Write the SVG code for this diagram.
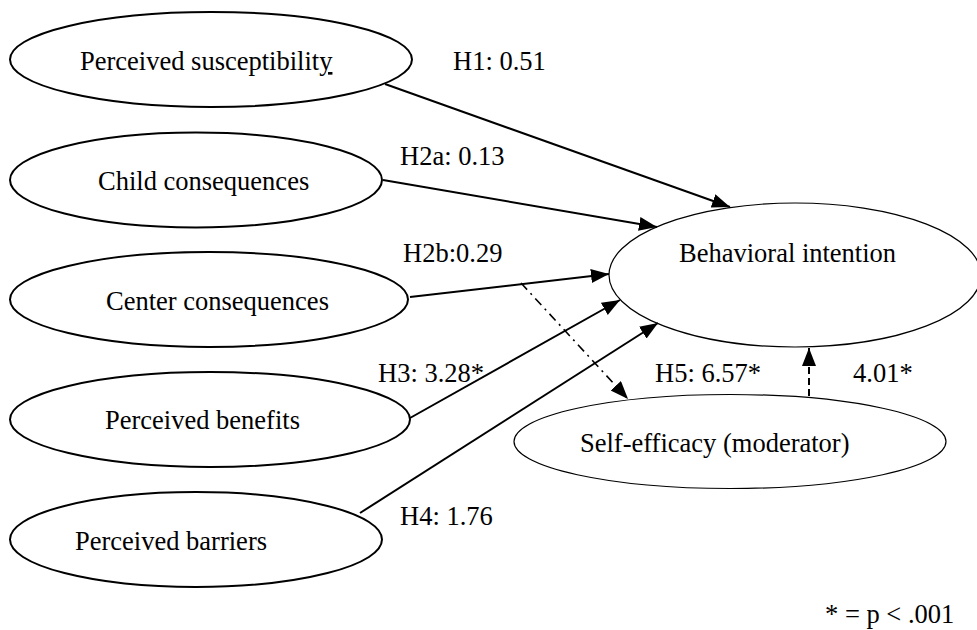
<svg xmlns="http://www.w3.org/2000/svg" width="977" height="630" viewBox="0 0 977 630">
<style>
text{font-family:"Liberation Serif","Times New Roman",serif;font-size:26.5px;fill:#000}
.src{fill:#fff;stroke:#000;stroke-width:2}
.tgt{fill:#fff;stroke:#000;stroke-width:1.2}
.arr{stroke:#000;stroke-width:2;fill:none;marker-end:url(#ah)}
.dd{stroke:#000;stroke-width:1.6;fill:none;stroke-dasharray:9 5 2 5;marker-end:url(#ah)}
.ds{stroke:#000;stroke-width:2;fill:none;stroke-dasharray:7 4;marker-end:url(#ah)}
</style>
<defs>
<marker id="ah" markerUnits="userSpaceOnUse" markerWidth="20" markerHeight="16" refX="18" refY="7" orient="auto">
<path d="M0,0 L18,7 L0,14 z" fill="#000"/>
</marker>
</defs>
<rect width="977" height="630" fill="#fff"/>
<g id="n-susceptibility">
<ellipse class="src" cx="211" cy="59.5" rx="201" ry="47.5"/>
<text x="80" y="70">Perceived susceptibilit<tspan text-decoration="underline">y</tspan></text>
</g>
<g id="n-child">
<ellipse class="src" cx="196" cy="180" rx="186" ry="47.5"/>
<text x="98" y="190">Child consequences</text>
</g>
<g id="n-center">
<ellipse class="src" cx="209" cy="299.5" rx="199" ry="47.5"/>
<text x="106" y="310">Center consequences</text>
</g>
<g id="n-benefits">
<ellipse class="src" cx="210" cy="419.5" rx="200" ry="47.5"/>
<text x="105" y="429">Perceived benefits</text>
</g>
<g id="n-barriers">
<ellipse class="src" cx="196" cy="539.5" rx="186" ry="47.5"/>
<text x="75" y="550">Perceived barriers</text>
</g>
<g id="n-intention">
<ellipse class="tgt" cx="795" cy="275" rx="186" ry="72"/>
<text x="679" y="262">Behavioral intention</text>
</g>
<g id="n-selfefficacy">
<ellipse class="tgt" cx="730" cy="441.5" rx="216" ry="47"/>
<text x="580" y="452">Self-efficacy (moderator)</text>
</g>
<g id="connectors">
<line class="arr" x1="385" y1="84" x2="730" y2="207"/>
<line class="arr" x1="383" y1="180" x2="657" y2="227"/>
<line class="arr" x1="410" y1="297" x2="609" y2="274"/>
<line class="arr" x1="410" y1="418" x2="620" y2="300"/>
<line class="arr" x1="360" y1="513" x2="658" y2="323"/>
<line class="dd" x1="521" y1="283" x2="628" y2="399"/>
<line class="ds" x1="809" y1="396" x2="809" y2="348"/>
</g>
<g id="labels">
<text x="453" y="70">H1: 0.51</text>
<text x="400" y="165">H2a: 0.13</text>
<text x="403" y="262">H2b:0.29</text>
<text x="378" y="382">H3: 3.28*</text>
<text x="400" y="525">H4: 1.76</text>
<text x="655" y="382">H5: 6.57*</text>
<text x="853" y="382">4.01*</text>
<text x="825" y="623">* = p &lt; .001</text>
</g>
</svg>
